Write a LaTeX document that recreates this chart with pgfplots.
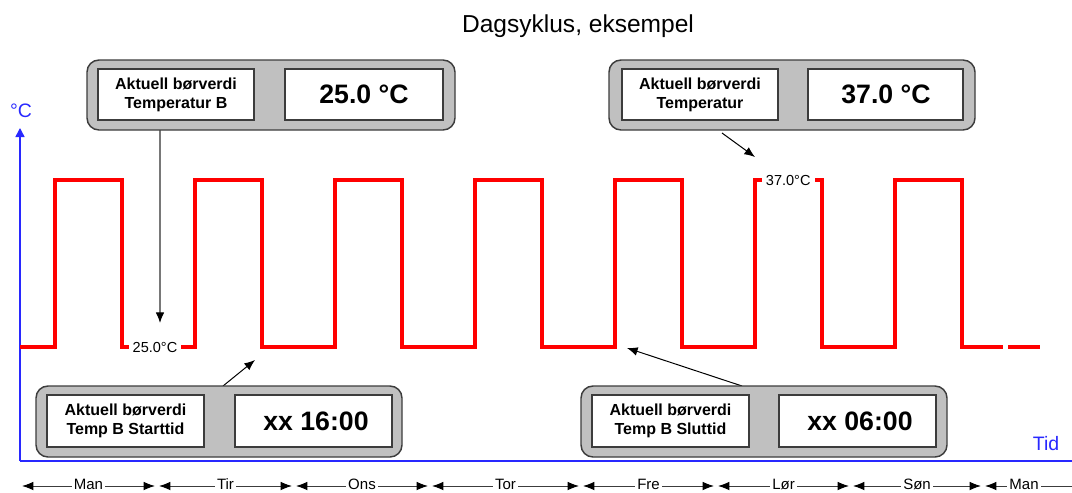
\documentclass[border=0pt]{standalone}
\usepackage{fontspec}
\setmainfont{Liberation Sans}
\usepackage{pgfplots}
\pgfplotsset{compat=1.18}
\usetikzlibrary{arrows.meta}
\definecolor{axblue}{RGB}{40,40,255}
\definecolor{boxgray}{RGB}{192,192,192}
\definecolor{edge}{RGB}{60,60,60}
\definecolor{lgray}{RGB}{120,120,120}
\begin{document}
\begin{tikzpicture}
\path[use as bounding box] (0pt,0pt) rectangle (804pt,-369.75pt);
\clip (0pt,0pt) rectangle (804pt,-369.75pt);
\begin{axis}[
  at={(15pt,-345.75pt)}, anchor=south west,
  scale only axis, width=789pt, height=249.75pt,
  xmin=0, xmax=180.343, ymin=16.81, ymax=40.74,
  axis lines=left,
  axis line style={axblue, line width=1.1pt},
  x axis line style={-},
  y axis line style={-{Triangle[length=6.75pt,width=6.75pt]}},
  xtick=\empty, ytick=\empty,
  clip=false,
]
\addplot[red, line width=2.8pt, line join=miter, line cap=butt] coordinates {
(0,25)(6,25)(6,37)(17.43,37)(17.43,25)
(30,25)(30,37)(41.43,37)(41.43,25)
(54,25)(54,37)(65.43,37)(65.43,25)
(78,25)(78,37)(89.43,37)(89.43,25)
(102,25)(102,37)(113.43,37)(113.43,25)
(126,25)(126,37)(137.43,37)(137.43,25)
(150,25)(150,37)(161.43,37)(161.43,25)
(168.5,25)};
\addplot[red, line width=2.8pt, line cap=butt] coordinates {(169.4,25)(174.86,25)};
\node[fill=white, inner xsep=3pt, inner ysep=1pt, font=\fontsize{10.9pt}{13pt}\selectfont] at (axis cs:23.14,25) {25.0°C};
\node[fill=white, inner xsep=3pt, inner ysep=1pt, font=\fontsize{10.9pt}{13pt}\selectfont] at (axis cs:131.7,37) {37.0°C};
\end{axis}
\begin{scope}[x=0.75pt,y=-0.75pt]
% title and axis labels
\node[anchor=base, font=\fontsize{18.4pt}{22pt}\selectfont] at (578,32) {Dagsyklus, eksempel};
\node[anchor=base, text=axblue, font=\fontsize{14.6pt}{17pt}\selectfont] at (21,117) {°C};
\node[anchor=base, text=axblue, font=\fontsize{14.6pt}{17pt}\selectfont] at (1046,450) {Tid};
% arrows
\draw[lgray, line width=0.9pt, -{Latex[length=8pt,width=6.5pt,color=black]}] (160,130) -- (160,323);
\draw[black, line width=0.75pt, -{Latex[length=8pt,width=6.5pt]}] (722,133) -- (755,157);
\draw[black, line width=0.75pt, -{Latex[length=8pt,width=6.5pt]}] (223,386) -- (255,360);
\draw[black, line width=0.75pt, -{Latex[length=8pt,width=6.5pt]}] (742,386) -- (627,348);
% callouts
\tikzset{outerbox/.style={draw=edge, line width=1.1pt, fill=boxgray, rounded corners=9pt},
         innerbox/.style={draw=edge, line width=1pt, fill=white},
         lab/.style={align=center, font=\bfseries\fontsize{12pt}{14.3pt}\selectfont},
         val/.style={font=\bfseries\fontsize{20pt}{24pt}\selectfont}}
% top left
\draw[outerbox] (87,60) rectangle (455,130);
\draw[innerbox] (98,69) rectangle (254,120);
\draw[innerbox] (285,69) rectangle (443,120);
\node[lab] at (176,94.5) {Aktuell børverdi\\Temperatur B};
\node[val] at (364,94.5) {25.0 °C};
% top right
\draw[outerbox] (609,60) rectangle (975,130);
\draw[innerbox] (622,69) rectangle (778,120);
\draw[innerbox] (808,69) rectangle (963,120);
\node[lab] at (700,94.5) {Aktuell børverdi\\Temperatur};
\node[val] at (886,94.5) {37.0 °C};
% bottom left
\draw[outerbox] (36,386) rectangle (402,457);
\draw[innerbox] (47,395) rectangle (204,447);
\draw[innerbox] (235,395) rectangle (392,447);
\node[lab] at (125.5,421) {Aktuell børverdi\\Temp B Starttid};
\node[val] at (316,421) {xx 16:00};
% bottom right
\draw[outerbox] (581,386) rectangle (947,457);
\draw[innerbox] (592,395) rectangle (749,447);
\draw[innerbox] (779,395) rectangle (936,447);
\node[lab] at (670.5,421) {Aktuell børverdi\\Temp B Sluttid};
\node[val] at (860,421) {xx 06:00};
% day ranges
\foreach \a/\b/\c/\d in {20/157/88.5/Man,157/294/225.5/Tir,294/430/362/Ons,430/581/505.5/Tor,581/716/648.5/Fre,716/851/783.5/Lør,851/983/917/Søn,983/1100/1024/Man}{
  \draw[edge, line width=0.75pt, {Latex[length=8.5pt,width=6.5pt,color=black]}-{Latex[length=8.5pt,width=6.5pt,color=black]}] (\a+2,486) -- (\b-2,486);
  \node[fill=white, inner xsep=1.5pt, inner ysep=0.5pt, anchor=base, font=\fontsize{11.25pt}{13pt}\selectfont] at (\c,489.5) {\d};
}
\end{scope}
\end{tikzpicture}
\end{document}
